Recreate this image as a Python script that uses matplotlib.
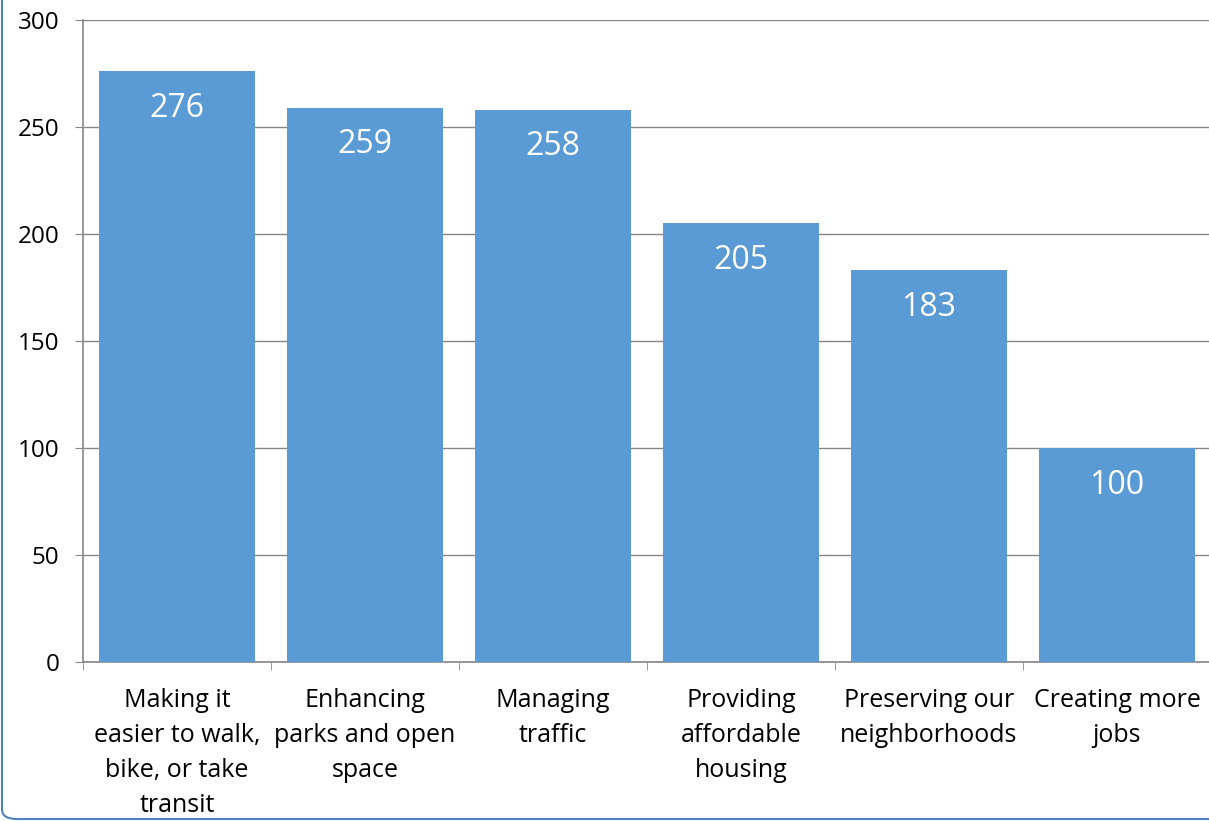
import matplotlib.pyplot as plt
from matplotlib.patches import FancyBboxPatch

plt.rcParams['font.family'] = ['Open Sans', 'DejaVu Sans']

# 数据
categories = ['Making it\neasier to walk,\nbike, or take\ntransit',
              'Enhancing\nparks and open\nspace',
              'Managing\ntraffic',
              'Providing\naffordable\nhousing',
              'Preserving our\nneighborhoods',
              'Creating more\njobs']
values = [276, 259, 258, 205, 183, 100]
yticks = [0, 50, 100, 150, 200, 250, 300]

W, H = 1209, 821
fig = plt.figure(figsize=(W / 100, H / 100), dpi=100)
ax = fig.add_axes([83 / W, (H - 662) / H, 1128 / W, 642 / H])

x = range(len(values))
bars = ax.bar(x, values, width=0.835, color='#5B9BD5', zorder=3)

# 柱内数据标签
for xi, v in zip(x, values):
    ax.annotate(str(v), (xi, v), xytext=(0, -37), textcoords='offset pixels',
                ha='center', va='center', color='white', fontsize=23, zorder=4)

ax.set_xlim(-0.5, len(values) - 0.5)
ax.set_ylim(0, 300)
ax.set_yticks(yticks)
ax.tick_params(axis='y', length=6, color='#868686', labelsize=17.5, pad=11)
ax.set_xticks(x)
ax.set_xticklabels(categories, fontsize=18, linespacing=1.52)
ax.tick_params(axis='x', length=0, pad=19)
# 分类边界刻度
ax.set_xticks([i - 0.5 for i in range(len(values) + 1)], minor=True)
ax.tick_params(axis='x', which='minor', length=6, color='#868686')

ax.grid(axis='y', color='#868686', linewidth=1, zorder=0)
for s in ['top', 'right']:
    ax.spines[s].set_visible(False)
for s in ['left', 'bottom']:
    ax.spines[s].set_color('#868686')
    ax.spines[s].set_linewidth(1.2)

# 图表外框
frame = FancyBboxPatch((2 / W, 2 / H), 1.2, 1.2, boxstyle='round,pad=0,rounding_size=0.012',
                       transform=fig.transFigure, fill=False, edgecolor='#4F81BD',
                       linewidth=1.5, clip_on=False)
fig.patches.append(frame)

fig.savefig('out.png', dpi=100)
